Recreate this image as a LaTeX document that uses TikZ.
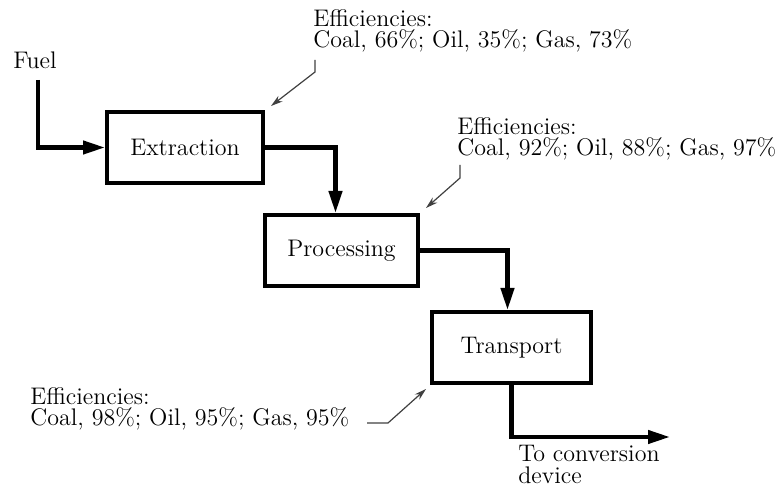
\documentclass[tikz,border=0pt]{standalone}
\usetikzlibrary{arrows.meta}
\begin{document}
\begin{tikzpicture}[x=0.5pt,y=-0.5pt,
  every node/.style={font=\fontsize{12}{10.8}\selectfont},
  box/.style={draw, line width=2pt, minimum height=35.5pt, inner sep=0pt},
  flow/.style={line width=2.1pt, -{Triangle[length=11pt,width=6.5pt]}},
  leader/.style={draw=black!75, line width=0.6pt, -{Stealth[length=6pt,width=3.5pt]}},
  note/.style={align=left, inner sep=0pt, anchor=north west}]
\useasboundingbox (0,0) rectangle (777,491);

% process boxes
\node[box, minimum width=78pt]   (ext)   at (185,147.5) {Extraction};
\node[box, minimum width=76.5pt] (proc)  at (341.5,250.5) {Processing};
\node[box, minimum width=79.5pt] (trans) at (511.5,347.5) {Transport};

% input / output labels
\node[anchor=south, inner sep=0pt] (fuel) at (35,69) {Fuel};
\coordinate (fuelstart) at (38,80);
\coordinate (outend) at (670,437);
\node[note, font=\fontsize{12}{11}\selectfont] (conv) at (518,445) {To conversion\\device};

% efficiency notes
\node[note] (a1) at (313,9) {Efficiencies:\\Coal, 66\%; Oil, 35\%; Gas, 73\%};
\node[note] (a2) at (457,117) {Efficiencies:\\Coal, 92\%; Oil, 88\%; Gas, 97\%};
\node[note] (a3) at (30,387) {Efficiencies:\\Coal, 98\%; Oil, 95\%; Gas, 95\%};

% main flow
\draw[flow] (fuelstart) |- (ext.west);
\draw[flow] (ext.east) -| ([xshift=-3pt]proc.north);
\draw[flow] (proc.east) -| ([xshift=-2pt]trans.north);
\draw[flow] (trans.south) |- (outend);

% leaders
\coordinate (l1) at (315,60);
\coordinate (l2) at (460,165);
\coordinate (l3) at (367,423);
\draw[leader] (l1) -- ++(0,12) -- ([shift={(3pt,2pt)}]ext.north east);
\draw[leader] (l2) -- ++(0,13) -- ([shift={(3pt,2.5pt)}]proc.north east);
\draw[leader] (l3) -- ++(21,0) -- ([shift={(-2pt,-2pt)}]trans.south west);
\end{tikzpicture}
\end{document}
